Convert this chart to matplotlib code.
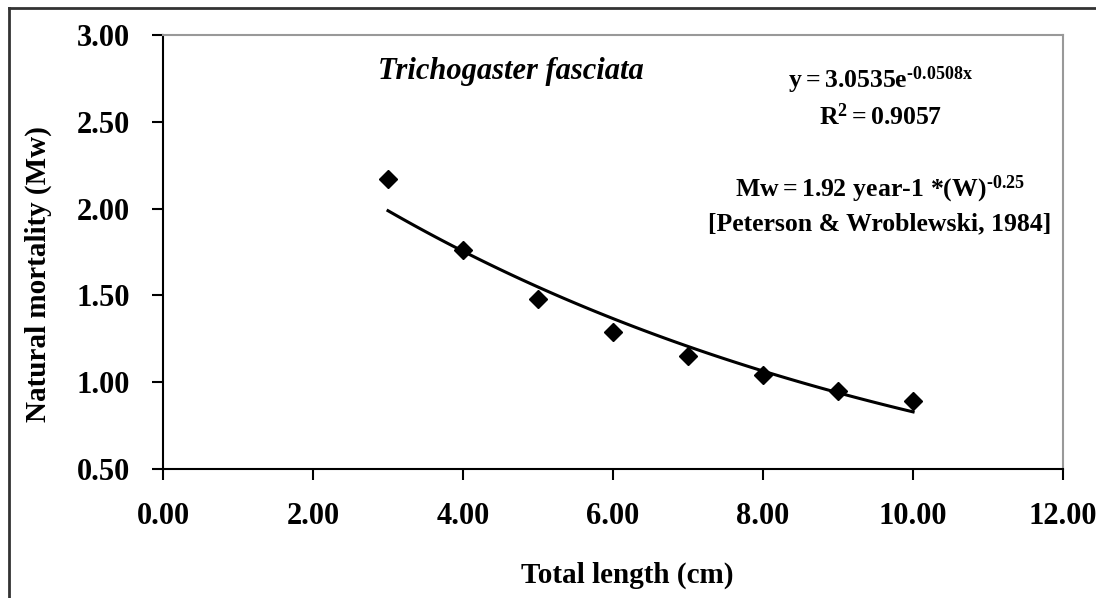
import numpy as np
import matplotlib
matplotlib.use("Agg")
import matplotlib.pyplot as plt
from matplotlib.lines import Line2D

plt.rcParams['font.family'] = ['Liberation Serif', 'DejaVu Serif']
plt.rcParams['font.weight'] = 'bold'
plt.rcParams['axes.labelweight'] = 'bold'
plt.rcParams['mathtext.fontset'] = 'custom'
plt.rcParams['mathtext.rm'] = 'Liberation Serif:bold'
plt.rcParams['mathtext.it'] = 'Liberation Serif:bold'
plt.rcParams['mathtext.bf'] = 'Liberation Serif:bold'

# total length (cm) and natural mortality
length = [3, 4, 5, 6, 7, 8, 9, 10]
mw = [2.17, 1.76, 1.48, 1.29, 1.15, 1.04, 0.95, 0.89]

xticks = [0, 2, 4, 6, 8, 10, 12]
yticks = [0.5, 1.0, 1.5, 2.0, 2.5, 3.0]

# exponential trendline fitted to the points
b, a = np.polyfit(length, np.log(mw), 1)
xs = np.linspace(min(length), max(length), 100)
ys = np.exp(a) * np.exp(b * xs)

fig = plt.figure(figsize=(10.96, 5.98), dpi=100)
ax = fig.add_axes([0.1487, 0.2157, 0.8213, 0.7258])

ax.plot(xs, ys, color='black', lw=2.2)
ax.plot(length, mw, 'D', color='black', markersize=9)

ax.set_xlim(0, 12)
ax.set_ylim(0.5, 3.0)
ax.set_xticks(xticks)
ax.set_yticks(yticks)
ax.set_xticklabels(['%.2f' % v for v in xticks], fontsize=22)
ax.set_yticklabels(['%.2f' % v for v in yticks], fontsize=22)
ax.tick_params(direction='out', length=8, width=1.5)
ax.tick_params(axis='y', pad=16)
ax.tick_params(axis='x', pad=16)

for s in ['left', 'bottom']:
    ax.spines[s].set_color('black')
    ax.spines[s].set_linewidth(1.5)
for s in ['top', 'right']:
    ax.spines[s].set_color('#999999')
    ax.spines[s].set_linewidth(1.5)

fig.text(627 / 1096, 1 - 575 / 598, 'Total length (cm)', fontsize=21,
         ha='center', va='center')
fig.text(38 / 1096, 1 - 274 / 598, 'Natural mortality (Mw)', fontsize=21,
         ha='center', va='center', rotation=90)

ax.text(4.64, 2.79, 'Trichogaster fasciata', fontsize=22, style='italic',
        ha='center', va='center')
ax.text(9.56, 2.74, r'$\mathregular{y = 3.0535e^{\text{-}0.0508x}}$', fontsize=18.5,
        ha='center', va='center')
ax.text(9.56, 2.53, r'$\mathregular{R^{2} = 0.9057}$', fontsize=18.5,
        ha='center', va='center')
ax.text(9.56, 2.11, r'$\mathregular{Mw = 1.92\ year\text{-}1\ {*}(W)^{\text{-}0.25}}$', fontsize=18.5,
        ha='center', va='center')
ax.text(9.56, 1.915, '[Peterson & Wroblewski, 1984]', fontsize=18.5,
        ha='center', va='center')

# outer frame (left and top edges)
fig.add_artist(Line2D([8.5 / 1096, 8.5 / 1096], [0, 1 - 8 / 598],
                      color='#333333', lw=2, transform=fig.transFigure))
fig.add_artist(Line2D([8.5 / 1096, 1], [1 - 8 / 598, 1 - 8 / 598],
                      color='#333333', lw=2, transform=fig.transFigure))

fig.savefig('out.png', dpi=100)
